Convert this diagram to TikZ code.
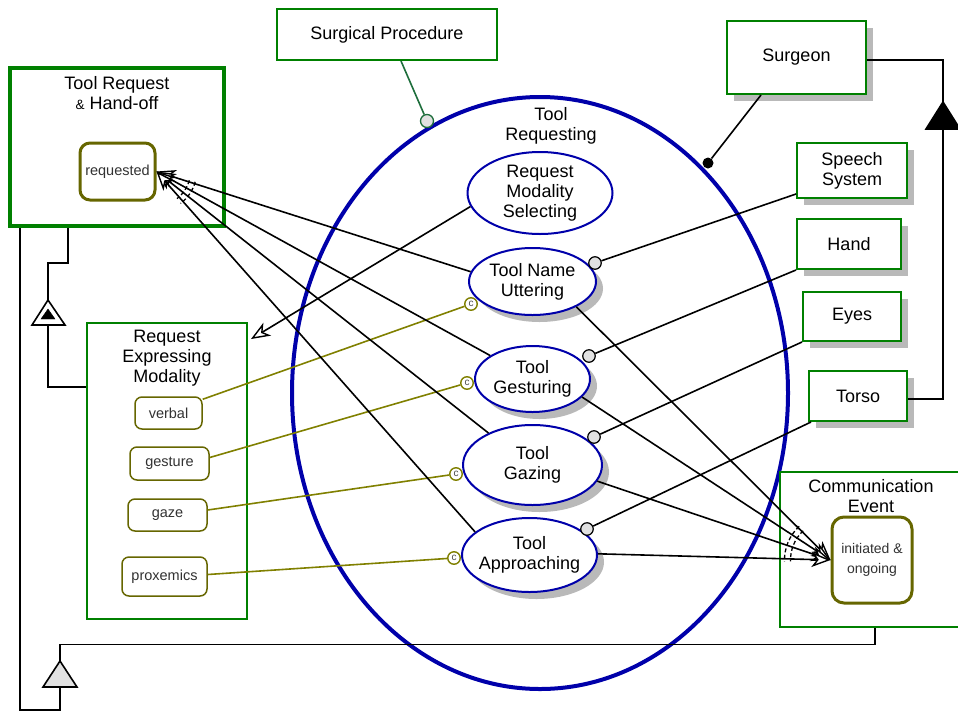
\documentclass[tikz,border=0pt]{standalone}
\usepackage{fontspec}
\setmainfont{Liberation Sans}
\usetikzlibrary{shapes.geometric,arrows.meta,shadows,calc}
\definecolor{objgreen}{RGB}{0,128,0}
\definecolor{procblue}{RGB}{0,0,170}
\definecolor{stateolive}{RGB}{102,102,0}
\definecolor{linkolive}{RGB}{128,128,0}
\definecolor{shadowgray}{RGB}{185,185,185}
\definecolor{circgray}{RGB}{225,225,225}
\definecolor{statetext}{RGB}{50,50,50}
\definecolor{splink}{RGB}{30,110,60}
\begin{document}
\begin{tikzpicture}[x=1pt,y=-1pt,
  font=\fontsize{18}{20}\selectfont,
  obj/.style={draw=objgreen, line width=2pt, rectangle, fill=white, inner sep=0pt, align=center},
  physobj/.style={obj, general shadow={fill=shadowgray, shadow xshift=7pt, shadow yshift=-7pt}},
  proc/.style={draw=procblue, line width=2pt, ellipse, fill=white, inner sep=-8pt, align=center},
  physproc/.style={proc, general shadow={fill=shadowgray, shadow xshift=7pt, shadow yshift=-7pt}},
  statebox/.style={draw=stateolive, rounded corners=7pt, line width=1.5pt, fill=white, inner sep=0pt,
    align=center, text=statetext, font=\fontsize{14.5}{16}\selectfont},
  bigstate/.style={statebox, line width=3pt, rounded corners=10pt},
  title/.style={align=center, inner sep=0pt},
  link/.style={line width=1.6pt, black},
  condlink/.style={line width=1.6pt, linkolive},
  result/.style={link, -{Stealth[open, length=19pt, width=15pt, inset=5.5pt, fill=white, line width=1.4pt]}},
  orarc/.style={line width=1.3pt, dash pattern=on 4pt off 2.5pt},
  instcirc/.style={circle, draw=black, fill=circgray, line width=1.2pt, minimum size=12.5pt, inner sep=0pt},
  agentdot/.style={circle, fill=black, minimum size=11pt, inner sep=0pt},
  condcirc/.style={circle, draw=linkolive, fill=white, line width=1.4pt, minimum size=12.5pt, inner sep=0pt,
    text=black!70, font=\fontsize{10}{10}\selectfont},
  spcirc/.style={circle, draw=splink, fill=circgray, line width=1.3pt, minimum size=13pt, inner sep=0pt}
]
\useasboundingbox (0,0) rectangle (958,710);

% ---- main process ----
\node[draw=procblue, line width=4pt, ellipse, minimum width=496pt, minimum height=592pt, inner sep=0pt] (tr) at (540,393) {};
\node[title] (trtitle) at (551,126) {Tool\\Requesting};

% ---- objects on the left ----
\node[obj, line width=4pt, minimum width=214pt, minimum height=158pt] (trh) at (117,147) {};
\node[title] (trhtitle) at (117,93) {Tool Request\\{\rmfamily\fontsize{13.5}{13.5}\selectfont\&} Hand-off};
\node[bigstate, minimum width=75pt, minimum height=57pt] (requested) at (117.5,171.5) {requested};

\node[obj, minimum width=160pt, minimum height=296pt] (rem) at (167,471) {};
\node[title] (remtitle) at (167,358) {Request\\Expressing\\Modality};
\node[statebox, minimum width=67pt, minimum height=32pt] (verbal) at (168.5,413) {verbal};
\node[statebox, minimum width=79pt, minimum height=33pt] (gesture) at (169.5,463.5) {gesture};
\node[statebox, minimum width=79pt, minimum height=32pt] (gaze) at (167.5,515) {gaze};
\node[statebox, minimum width=85pt, minimum height=39pt] (proxemics) at (164.5,576.5) {proxemics};

\node[obj, minimum width=220pt, minimum height=51pt] (sp) at (387,34.5) {Surgical Procedure};

% ---- objects on the right ----
\node[physobj, minimum width=139pt, minimum height=73pt] (surgeon) at (796.5,57.5) {Surgeon};
\node[physobj, minimum width=110pt, minimum height=55pt] (speech) at (852,170.5) {Speech\\System};
\node[physobj, minimum width=104pt, minimum height=50pt] (hand) at (849,244) {Hand};
\node[physobj, minimum width=98pt, minimum height=49pt] (eyes) at (852,316.5) {Eyes};
\node[physobj, minimum width=98pt, minimum height=50pt] (torso) at (858,396) {Torso};

\node[obj, minimum width=182pt, minimum height=155pt] (ce) at (871,549) {};
\node[title] (cetitle) at (871,496) {Communication\\Event};
\node[bigstate, rounded corners=12pt, minimum width=80pt, minimum height=86pt, font=\fontsize{14}{20}\selectfont] (initiated) at (872,560) {initiated \&\\ongoing};

% ---- subprocesses ----
\node[proc, minimum width=145pt, minimum height=82pt] (rms) at (540,193) {Request\\Modality\\Selecting};
\node[physproc, minimum width=127pt, minimum height=67pt] (tnu) at (532.5,281.5) {Tool Name\\Uttering};
\node[physproc, minimum width=115pt, minimum height=66pt] (tg) at (532.5,379) {Tool\\Gesturing};
\node[physproc, minimum width=139pt, minimum height=80pt] (tgz) at (532.5,465) {Tool\\Gazing};
\node[physproc, minimum width=135pt, minimum height=74pt] (ta) at (529.5,555) {Tool\\Approaching};

% ---- link end symbols ----
\node[spcirc] (csp) at (427,121) {};
\node[agentdot] (csurgeon) at (708,163) {};
\node[instcirc] (cspeech) at (595,263) {};
\node[instcirc] (chand) at (589,356) {};
\node[instcirc] (ceyes) at (594,437) {};
\node[instcirc] (ctorso) at (587,529) {};
\node[condcirc] (cverbal) at (471,304) {c};
\node[condcirc] (cgesture) at (467,383) {c};
\node[condcirc] (cgaze) at (456,474) {c};
\node[condcirc] (cprox) at (454,558) {c};

% ---- structural links, right ----
\coordinate (aggtop) at (943,102);
\coordinate (aggbase) at (943,129);
\draw[link] (surgeon.east) ++(0,2.5) -| (aggtop);
\draw[link, fill=black] (aggtop) -- (960,129) -- (926,129) -- cycle;
\draw[link] (aggbase) |- ($(torso.east)+(0,3)$);
\draw[link] ($(speech.east)+(0,12.5)$) -- ($(speech.east)+(0,12.5)$ -| aggbase);
\draw[link] ($(hand.east)+(0,10)$) -- ($(hand.east)+(0,10)$ -| aggbase);
\draw[link] ($(eyes.east)+(0,-1.5)$) -- ($(eyes.east)+(0,-1.5)$ -| aggbase);

% ---- structural links, left ----
\coordinate (exhtop) at (48,300);
\coordinate (exhbase) at (48,325);
\draw[link] ([xshift=60pt]trh.south west) -- ++(0,35) -| (exhtop);
\draw[link, fill=white] (exhtop) -- (65,325) -- (32,325) -- cycle;
\draw[fill=black] (48,309) -- (55,319) -- (41,319) -- cycle;
\draw[link] (exhbase) |- ($(rem.north west)+(0,65)$);

\coordinate (gentop) at (60,661);
\coordinate (genbase) at (60,687);
\draw[link] ([xshift=12pt]trh.south west) -- ++(0,482) -| (genbase);
\draw[link, fill=circgray] (gentop) -- (77,687) -- (43,687) -- cycle;
\draw[link] (gentop) |- ([xshift=4pt,yshift=-17pt]ce.south) -- ([xshift=4pt]ce.south);

% ---- procedural links ----
\draw[splink, line width=1.6pt] ([xshift=14pt]sp.south) -- (csp);
\draw[link] ([xshift=35pt]surgeon.south west) -- (csurgeon);
\draw[link] ([yshift=5pt]speech.south west) -- (cspeech);
\draw[link] (hand.south west) -- (chand);
\draw[link] (eyes.south west) -- (ceyes);
\draw[link] ([xshift=3pt]torso.south west) -- (ctorso);

\draw[condlink] ([yshift=-3pt]verbal.north east) -- (cverbal);
\draw[condlink] ([yshift=6pt]gesture.east) -- (cgesture);
\draw[condlink] ([yshift=5pt]gaze.east) -- (cgaze);
\draw[condlink] ([yshift=2pt]proxemics.east) -- (cprox);

\draw[result] (rms.191) -- ([xshift=3pt,yshift=-17pt]rem.north east);

\draw[result] (tnu.171) -- (requested.east);
\draw[result] (tg.151) -- (requested.east);
\draw[result] (tgz.144) -- (requested.east);
\draw[result] (ta.157) -- (requested.east);
\draw[orarc] (requested.east) ++(-15:34pt) arc[start angle=-15, end angle=-53, radius=34pt];
\draw[orarc] (requested.east) ++(-15:40pt) arc[start angle=-15, end angle=-53, radius=40pt];

\draw[result] (tnu.-30) -- (initiated.west);
\draw[result] (tg.-20) -- (initiated.west);
\draw[result] (tgz.-14) -- (initiated.west);
\draw[result] (ta.1) -- (initiated.west);
\draw[orarc] (initiated.west) ++(133:40pt) arc[start angle=133, end angle=182, radius=40pt];
\draw[orarc] (initiated.west) ++(133:46pt) arc[start angle=133, end angle=182, radius=46pt];
\end{tikzpicture}
\end{document}
